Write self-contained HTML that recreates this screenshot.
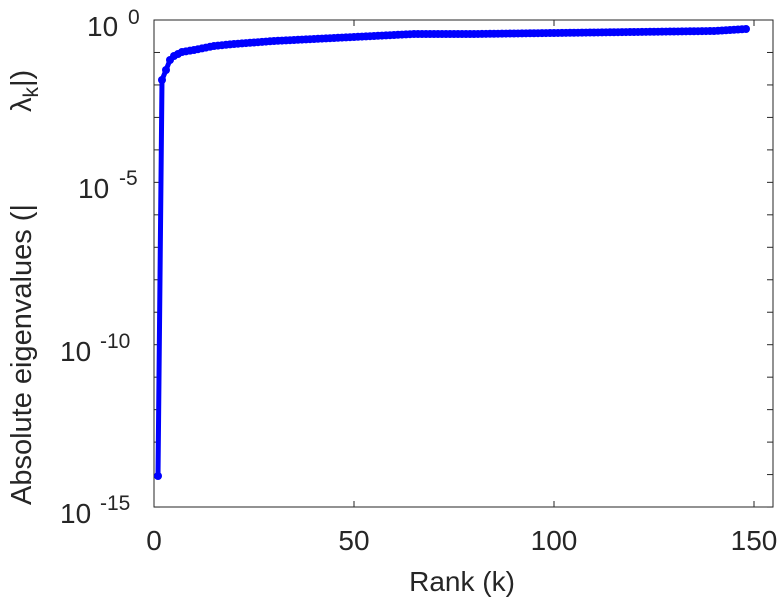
<!DOCTYPE html><html><head><style>body{margin:0;background:#fff}svg text{font-family:"Liberation Sans",sans-serif;fill:#262626}</style></head><body>
<svg id="s" width="783" height="600" viewBox="0 0 783 600">
<rect x="154" y="20" width="619" height="487" fill="none" stroke="#262626" stroke-width="1"/>
<g id="t" stroke="#262626" stroke-width="1"></g>
<polyline id="p" fill="none" stroke="#0000ff" stroke-width="5"/>
<g id="m" fill="#0000ff"></g>
<g font-size="28" text-anchor="middle">
<text x="154" y="550">0</text><text x="354" y="550">50</text><text x="554" y="550">100</text><text x="754" y="550">150</text>
<text x="462" y="591">Rank (k)</text>
</g>
<g font-size="28">
<text x="87" y="36">10</text><text x="128" y="24" font-size="21">0</text>
<text x="78" y="198">10</text><text x="119" y="185" font-size="21">-5</text>
<text x="60" y="361">10</text><text x="100" y="348" font-size="21">-10</text>
<text x="60" y="523">10</text><text x="100" y="510" font-size="21">-15</text>
</g>
<text transform="translate(31,505) rotate(-90)" font-size="29">Absolute eigenvalues (|</text>
<text transform="translate(31,112) rotate(-90)" font-size="29">λ<tspan font-size="21" dy="7">k</tspan><tspan dy="-7">|)</tspan></text>
</svg>
<script>
var t=document.getElementById('t'),s='';
for(var d=0;d<=15;d++){var y=20+d*32.47;s+='<line x1="154" x2="160" y1="'+y+'" y2="'+y+'"/><line x1="773" x2="767" y1="'+y+'" y2="'+y+'"/>';}
for(var k=0;k<=150;k+=50){var x=154+4*k;s+='<line x1="'+x+'" x2="'+x+'" y1="507" y2="501"/><line x1="'+x+'" x2="'+x+'" y1="20" y2="26"/>';}
t.innerHTML=s;
var pts=[[1,476],[2,80],[3,70],[4,60],[5,56],[7,52],[10,50],[15,46],[20,44],[30,41],[40,39],[50,37],[65,34],[80,34],[100,33],[120,32],[140,31],[148,29]];
function yy(k){for(var i=0;i<pts.length-1;i++){if(k<=pts[i+1][0]){var a=pts[i],b=pts[i+1];return a[1]+(b[1]-a[1])*(k-a[0])/(b[0]-a[0]);}}return 29;}
var P=[],M='';
for(var k=1;k<=148;k++){var x=154+4*k,y=yy(k);P.push(x+','+y);M+='<circle cx="'+x+'" cy="'+y+'" r="4"/>';}
document.getElementById('p').setAttribute('points',P.join(' '));
document.getElementById('m').innerHTML=M;
</script>
</body></html>
